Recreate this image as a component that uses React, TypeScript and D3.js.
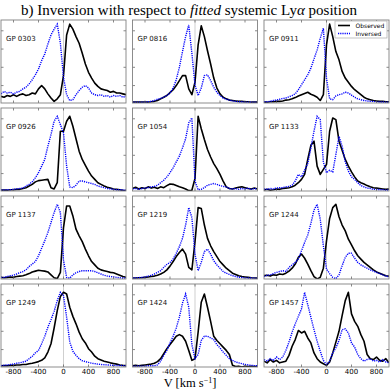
import React from 'react';
import * as d3 from 'd3';

// velocity grid in km/s
const velocity = [-1000, -950, -900, -850, -800, -750, -700, -650, -600, -550, -500, -450, -400, -350, -300, -250, -200, -150, -100, -50, 0, 50, 100, 150, 200, 250, 300, 350, 400, 450, 500, 550, 600, 650, 700, 750, 800, 850, 900, 950, 1000];

const names = ['GP 0303', 'GP 0816', 'GP 0911', 'GP 0926', 'GP 1054', 'GP 1133', 'GP 1137', 'GP 1219', 'GP 1244', 'GP 1249', 'GP 1424', 'GP 1457'];

// normalised flux, observed and inverted profiles
const obs0303 = [0.08, 0.07, 0.09, 0.08, 0.10, 0.08, 0.10, 0.11, 0.09, 0.10, 0.12, 0.11, 0.17, 0.21, 0.17, 0.11, 0.06, 0.02, 0.05, 0.10, 0.33, 0.82, 0.95, 0.89, 0.80, 0.72, 0.60, 0.47, 0.37, 0.30, 0.24, 0.20, 0.17, 0.16, 0.15, 0.13, 0.14, 0.12, 0.12, 0.11, 0.10];
const inv0303 = [0.11, 0.14, 0.12, 0.13, 0.11, 0.13, 0.14, 0.17, 0.19, 0.23, 0.28, 0.34, 0.41, 0.51, 0.59, 0.71, 0.82, 0.89, 0.95, 0.72, 0.31, 0.10, 0.03, 0.04, 0.10, 0.15, 0.19, 0.21, 0.18, 0.12, 0.10, 0.09, 0.10, 0.08, 0.09, 0.07, 0.09, 0.08, 0.09, 0.07, 0.08];
const obs0816 = [0.01, 0.01, 0.01, 0.01, 0.01, 0.01, 0.015, 0.02, 0.03, 0.05, 0.07, 0.09, 0.125, 0.16, 0.21, 0.27, 0.33, 0.33, 0.17, 0.10, 0.25, 0.70, 0.93, 0.80, 0.63, 0.47, 0.30, 0.18, 0.11, 0.07, 0.05, 0.035, 0.03, 0.025, 0.02, 0.02, 0.015, 0.015, 0.01, 0.01, 0.01];
const inv0816 = [0.01, 0.01, 0.01, 0.01, 0.01, 0.015, 0.02, 0.03, 0.045, 0.055, 0.07, 0.09, 0.12, 0.18, 0.28, 0.43, 0.62, 0.80, 0.94, 0.60, 0.22, 0.09, 0.18, 0.33, 0.34, 0.27, 0.19, 0.13, 0.09, 0.06, 0.045, 0.035, 0.025, 0.02, 0.015, 0.015, 0.01, 0.01, 0.01, 0.01, 0.01];
const obs0911 = [0.01, 0.01, 0.015, 0.015, 0.02, 0.02, 0.025, 0.035, 0.04, 0.05, 0.065, 0.085, 0.10, 0.115, 0.13, 0.105, 0.09, 0.07, 0.03, 0.10, 0.70, 0.95, 0.80, 0.62, 0.52, 0.38, 0.30, 0.25, 0.20, 0.16, 0.13, 0.10, 0.07, 0.05, 0.04, 0.03, 0.025, 0.02, 0.02, 0.015, 0.015];
const inv0911 = [0.015, 0.015, 0.02, 0.03, 0.035, 0.045, 0.055, 0.06, 0.075, 0.09, 0.11, 0.16, 0.22, 0.28, 0.34, 0.42, 0.53, 0.64, 0.78, 0.90, 0.30, 0.05, 0.04, 0.085, 0.10, 0.11, 0.13, 0.12, 0.095, 0.07, 0.05, 0.04, 0.03, 0.025, 0.02, 0.02, 0.015, 0.012, 0.012, 0.01, 0.01];
const obs0926 = [0.01, 0.012, 0.01, 0.015, 0.015, 0.02, 0.02, 0.03, 0.04, 0.06, 0.08, 0.11, 0.125, 0.13, 0.135, 0.14, 0.04, 0.025, 0.10, 0.72, 0.72, 0.84, 0.90, 0.78, 0.63, 0.48, 0.38, 0.31, 0.24, 0.18, 0.14, 0.10, 0.08, 0.06, 0.045, 0.035, 0.025, 0.02, 0.015, 0.008, 0.005];
const inv0926 = [0.012, 0.012, 0.015, 0.015, 0.02, 0.025, 0.03, 0.035, 0.06, 0.08, 0.11, 0.16, 0.22, 0.30, 0.38, 0.54, 0.68, 0.84, 0.90, 0.80, 0.70, 0.30, 0.05, 0.04, 0.07, 0.12, 0.12, 0.11, 0.10, 0.09, 0.08, 0.06, 0.05, 0.04, 0.03, 0.025, 0.02, 0.015, 0.015, 0.012, 0.01];
const obs1054 = [0.03, 0.045, 0.025, 0.04, 0.03, 0.05, 0.035, 0.045, 0.03, 0.05, 0.04, 0.065, 0.085, 0.08, 0.065, 0.05, 0.04, 0.025, 0.005, 0.01, 0.15, 0.90, 0.75, 0.62, 0.50, 0.41, 0.33, 0.27, 0.20, 0.12, 0.05, 0.03, 0.025, 0.035, 0.045, 0.05, 0.04, 0.03, 0.025, 0.035, 0.025];
const inv1054 = [0.025, 0.03, 0.02, 0.03, 0.035, 0.04, 0.05, 0.055, 0.07, 0.10, 0.13, 0.17, 0.22, 0.28, 0.35, 0.42, 0.52, 0.63, 0.82, 0.88, 0.12, 0.015, 0.02, 0.04, 0.07, 0.08, 0.09, 0.08, 0.065, 0.055, 0.05, 0.03, 0.025, 0.03, 0.02, 0.03, 0.025, 0.035, 0.02, 0.03, 0.025];
const obs1133 = [0.012, 0.02, 0.01, 0.015, 0.025, 0.02, 0.03, 0.035, 0.04, 0.05, 0.07, 0.10, 0.14, 0.20, 0.38, 0.55, 0.60, 0.30, 0.20, 0.26, 0.32, 0.72, 0.88, 0.86, 0.60, 0.49, 0.38, 0.30, 0.23, 0.17, 0.12, 0.10, 0.085, 0.065, 0.05, 0.04, 0.035, 0.03, 0.025, 0.02, 0.025];
const inv1133 = [0.025, 0.02, 0.03, 0.025, 0.035, 0.04, 0.04, 0.05, 0.055, 0.07, 0.12, 0.20, 0.17, 0.25, 0.33, 0.52, 0.72, 0.90, 0.86, 0.35, 0.22, 0.25, 0.23, 0.44, 0.66, 0.54, 0.35, 0.24, 0.17, 0.14, 0.10, 0.065, 0.05, 0.035, 0.03, 0.02, 0.02, 0.015, 0.015, 0.01, 0.012];
const obs1137 = [0.02, 0.015, 0.02, 0.025, 0.02, 0.03, 0.035, 0.04, 0.05, 0.065, 0.085, 0.095, 0.105, 0.10, 0.095, 0.085, 0.05, 0.015, 0.005, 0.08, 0.62, 0.88, 0.88, 0.76, 0.60, 0.52, 0.45, 0.36, 0.28, 0.21, 0.17, 0.13, 0.11, 0.10, 0.09, 0.08, 0.075, 0.06, 0.045, 0.03, 0.02];
const inv1137 = [0.02, 0.02, 0.03, 0.04, 0.045, 0.06, 0.075, 0.09, 0.11, 0.15, 0.18, 0.21, 0.28, 0.37, 0.46, 0.56, 0.68, 0.80, 0.90, 0.80, 0.23, 0.02, 0.01, 0.05, 0.075, 0.09, 0.10, 0.10, 0.10, 0.10, 0.09, 0.075, 0.06, 0.045, 0.035, 0.03, 0.025, 0.02, 0.015, 0.012, 0.012];
const obs1219 = [0.012, 0.012, 0.015, 0.015, 0.02, 0.025, 0.03, 0.035, 0.045, 0.06, 0.08, 0.11, 0.155, 0.21, 0.27, 0.32, 0.36, 0.30, 0.14, 0.11, 0.45, 0.86, 0.85, 0.65, 0.49, 0.40, 0.33, 0.27, 0.21, 0.17, 0.13, 0.10, 0.07, 0.055, 0.04, 0.03, 0.025, 0.02, 0.015, 0.012, 0.01];
const inv1219 = [0.012, 0.012, 0.015, 0.02, 0.025, 0.035, 0.045, 0.06, 0.08, 0.10, 0.14, 0.175, 0.20, 0.24, 0.31, 0.39, 0.49, 0.65, 0.86, 0.74, 0.30, 0.10, 0.20, 0.33, 0.36, 0.30, 0.22, 0.17, 0.13, 0.09, 0.07, 0.055, 0.04, 0.03, 0.022, 0.018, 0.015, 0.012, 0.012, 0.01, 0.01];
const obs1244 = [0.04, 0.045, 0.035, 0.05, 0.045, 0.06, 0.055, 0.07, 0.095, 0.13, 0.18, 0.26, 0.30, 0.25, 0.18, 0.10, 0.03, 0.00, 0.02, 0.13, 0.46, 0.73, 0.86, 0.90, 0.75, 0.65, 0.58, 0.48, 0.41, 0.34, 0.28, 0.24, 0.20, 0.17, 0.14, 0.11, 0.085, 0.07, 0.055, 0.04, 0.035];
const inv1244 = [0.03, 0.045, 0.05, 0.065, 0.08, 0.09, 0.10, 0.09, 0.14, 0.17, 0.20, 0.24, 0.34, 0.44, 0.53, 0.67, 0.83, 0.90, 0.72, 0.40, 0.12, 0.065, 0.02, 0.005, 0.05, 0.16, 0.26, 0.31, 0.31, 0.25, 0.20, 0.17, 0.15, 0.13, 0.11, 0.095, 0.08, 0.065, 0.05, 0.035, 0.027];
const obs1249 = [0.015, 0.017, 0.015, 0.02, 0.02, 0.025, 0.025, 0.03, 0.03, 0.04, 0.045, 0.055, 0.065, 0.08, 0.11, 0.18, 0.28, 0.47, 0.68, 0.85, 0.90, 0.88, 0.72, 0.61, 0.52, 0.42, 0.34, 0.29, 0.22, 0.18, 0.13, 0.10, 0.085, 0.07, 0.06, 0.05, 0.043, 0.035, 0.025, 0.02, 0.017];
const inv1249 = [0.017, 0.02, 0.025, 0.03, 0.035, 0.045, 0.05, 0.06, 0.07, 0.10, 0.13, 0.17, 0.20, 0.28, 0.37, 0.48, 0.57, 0.67, 0.80, 0.90, 0.86, 0.60, 0.30, 0.19, 0.14, 0.10, 0.075, 0.065, 0.055, 0.045, 0.04, 0.035, 0.03, 0.028, 0.025, 0.022, 0.02, 0.018, 0.018, 0.017, 0.015];
const obs1424 = [0.015, 0.02, 0.015, 0.02, 0.025, 0.03, 0.035, 0.045, 0.065, 0.10, 0.16, 0.22, 0.27, 0.32, 0.37, 0.39, 0.37, 0.31, 0.20, 0.08, 0.10, 0.42, 0.78, 0.88, 0.72, 0.55, 0.37, 0.32, 0.28, 0.24, 0.20, 0.15, 0.02, 0.005, 0.01, 0.0, 0.01, 0.005, 0.01, 0.005, 0.01];
const inv1424 = [0.01, 0.01, 0.012, 0.01, 0.012, 0.015, 0.015, 0.015, 0.025, 0.07, 0.14, 0.20, 0.29, 0.37, 0.47, 0.60, 0.77, 0.88, 0.72, 0.27, 0.10, 0.15, 0.32, 0.37, 0.37, 0.35, 0.33, 0.27, 0.23, 0.18, 0.14, 0.10, 0.08, 0.06, 0.05, 0.04, 0.03, 0.025, 0.02, 0.017, 0.015];
const obs1457 = [0.07, 0.05, 0.09, 0.06, 0.08, 0.05, 0.06, 0.07, 0.14, 0.25, 0.33, 0.44, 0.41, 0.43, 0.35, 0.29, 0.17, 0.10, 0.06, 0.04, 0.02, 0.06, 0.17, 0.30, 0.43, 0.62, 0.80, 0.90, 0.64, 0.55, 0.49, 0.39, 0.31, 0.15, 0.10, 0.09, 0.12, 0.08, 0.07, 0.10, 0.05];
const inv1457 = [0.09, 0.07, 0.10, 0.08, 0.12, 0.09, 0.12, 0.20, 0.30, 0.42, 0.52, 0.61, 0.70, 0.90, 0.75, 0.60, 0.45, 0.31, 0.19, 0.08, 0.03, 0.07, 0.17, 0.23, 0.32, 0.45, 0.46, 0.41, 0.29, 0.24, 0.15, 0.10, 0.07, 0.09, 0.10, 0.07, 0.08, 0.06, 0.09, 0.06, 0.05];

const observed = [obs0303, obs0816, obs0911, obs0926, obs1054, obs1133, obs1137, obs1219, obs1244, obs1249, obs1424, obs1457];
const inversed = [inv0303, inv0816, inv0911, inv0926, inv1054, inv1133, inv1137, inv1219, inv1244, inv1249, inv1424, inv1457];

const xTicks = [-800, -400, 0, 400, 800];
const yTicks = [0.21, 0.43, 0.65, 0.87];

const panelW = 125;
const panelH = 83;
const colX = [1, 132.5, 264];
const rowY = [20, 108, 196, 284];

export default function App() {
  const x = d3.scaleLinear().domain([-1000, 1000]).range([0, panelW]);
  const y = d3.scaleLinear().domain([0, 1]).range([panelH, 0]);
  const line = d3.line<number>()
    .x((d, i) => x(velocity[i]))
    .y(d => y(d));

  return (
    <svg width={390} height={390} style={{ position: 'absolute', left: 0, top: 0 }}>
      <rect width={390} height={390} fill="white" />
      <text x={189} y={15} textAnchor="middle" fontFamily="Liberation Serif" fontSize={15}
        textLength={336} lengthAdjust="spacingAndGlyphs">
        b) Inversion with respect to <tspan fontStyle="italic">fitted</tspan> systemic Ly<tspan fontStyle="italic">α</tspan> position
      </text>
      {names.map((name, k) => {
        const col = k % 3;
        const row = Math.floor(k / 3);
        const id = 'clip' + k;
        return (
          <g key={name} transform={`translate(${colX[col]},${rowY[row]})`}>
            <clipPath id={id}>
              <rect width={panelW} height={panelH} />
            </clipPath>
            <line x1={x(0)} x2={x(0)} y1={0} y2={panelH} stroke="#cfcfcf" strokeWidth={1} />
            <g clipPath={`url(#${id})`}>
              <path d={line(observed[k]) || ''} fill="none" stroke="black" strokeWidth={1.6} strokeLinejoin="round" />
              <path d={line(inversed[k]) || ''} fill="none" stroke="#0000ff" strokeWidth={1.4} strokeDasharray="1.2,1" />
            </g>
            {xTicks.map(t => (
              <g key={'x' + t}>
                <line x1={x(t)} x2={x(t)} y1={panelH} y2={panelH - 2.5} stroke="#555" strokeWidth={0.7} />
                <line x1={x(t)} x2={x(t)} y1={0} y2={2.5} stroke="#555" strokeWidth={0.7} />
              </g>
            ))}
            {yTicks.map(t => (
              <g key={'y' + t}>
                <line x1={0} x2={2.5} y1={y(t)} y2={y(t)} stroke="#555" strokeWidth={0.7} />
                <line x1={panelW} x2={panelW - 2.5} y1={y(t)} y2={y(t)} stroke="#555" strokeWidth={0.7} />
              </g>
            ))}
            <rect width={panelW} height={panelH} fill="none" stroke="#808080" strokeWidth={0.9} />
            <text x={5} y={21} fontFamily="DejaVu Sans" fontSize={7} fill="#111">{name}</text>
            {row === 3 && xTicks.map(t => (
              <text key={'l' + t} x={x(t)} y={panelH + 7} textAnchor="middle" fontFamily="DejaVu Sans" fontSize={7}>{String(t)}</text>
            ))}
            {k === 2 && (
              <g>
                <rect x={71} y={1} width={52} height={17} fill="white" stroke="#aaa" strokeWidth={0.7} />
                <line x1={74} x2={86} y1={5.5} y2={5.5} stroke="black" strokeWidth={1.6} />
                <line x1={74} x2={86} y1={13.5} y2={13.5} stroke="#0000ff" strokeWidth={1.4} strokeDasharray="1.2,1" />
                <text x={91.5} y={7.7} fontFamily="DejaVu Sans" fontSize={6}>Observed</text>
                <text x={91.5} y={15.7} fontFamily="DejaVu Sans" fontSize={6}>Inversed</text>
              </g>
            )}
          </g>
        );
      })}
      <text x={190} y={387} textAnchor="middle" fontFamily="Liberation Serif" fontSize={12.5}>
        V [km s<tspan dy={-4.5} fontSize={8}>−1</tspan><tspan dy={4.5}>]</tspan>
      </text>
    </svg>
  );
}
